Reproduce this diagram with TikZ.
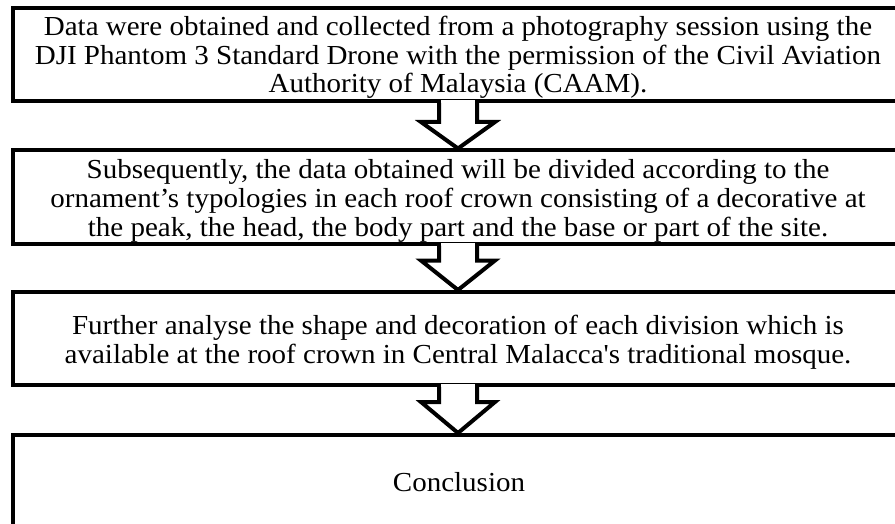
\documentclass[tikz,border=0pt]{standalone}
\usepackage{fontspec}
\newfontfamily\tnr{Liberation Serif}[FakeStretch=1.055]
\usetikzlibrary{calc}
\begin{document}
\begin{tikzpicture}[x=1pt,y=-1pt,
  box/.style={draw=black, line width=4pt, minimum width=890pt, minimum height=93pt, inner sep=0pt},
  txt/.style={inner sep=0pt, align=center, font=\tnr\fontsize{27.5}{28.7}\selectfont},
  arr/.style={draw=black, line width=4pt, line join=miter}]
\useasboundingbox (0,0) rectangle (895,524);
\node[box] (b1) at (458,54.5) {};
\node[box] (b2) at (458,197) {};
\node[box] (b3) at (458,338.5) {};
\node[box] (b4) at (458,481.5) {};
\node[txt] (t1) at ($(b1.center)+(0,3)$) {Data were obtained and collected from a photography session using the\\DJI Phantom 3 Standard Drone with the permission of the Civil Aviation\\Authority of Malaysia (CAAM).};
\node[txt] (t2) at ($(b2.center)+(0,4)$) {Subsequently, the data obtained will be divided according to the\\ornament’s typologies in each roof crown consisting of a decorative at\\the peak, the head, the body part and the base or part of the site.};
\node[txt] (t3) at ($(b3.center)+(0,4)$) {Further analyse the shape and decoration of each division which is\\available at the roof crown in Central Malacca's traditional mosque.};
\node[txt] (t4) at ($(b4.center)+(1,1)$) {Conclusion};
\newcommand\flowarrow[3]{%
  \fill[white] ($(#1.south)+(-17,-3)$) rectangle ($(#1.south)+(17,#3)$);
  \draw[arr] ($(#1.south)+(-19,0)$) -- ++(0,#3) -- ++(-18,0) -- (#2.north)
    -- ($(#1.south)+(37,#3)$) -- ++(-18,0) -- ++(0,-#3);
}
\flowarrow{b1}{b2}{19}
\flowarrow{b2}{b3}{15}
\flowarrow{b3}{b4}{15}
\end{tikzpicture}
\end{document}
